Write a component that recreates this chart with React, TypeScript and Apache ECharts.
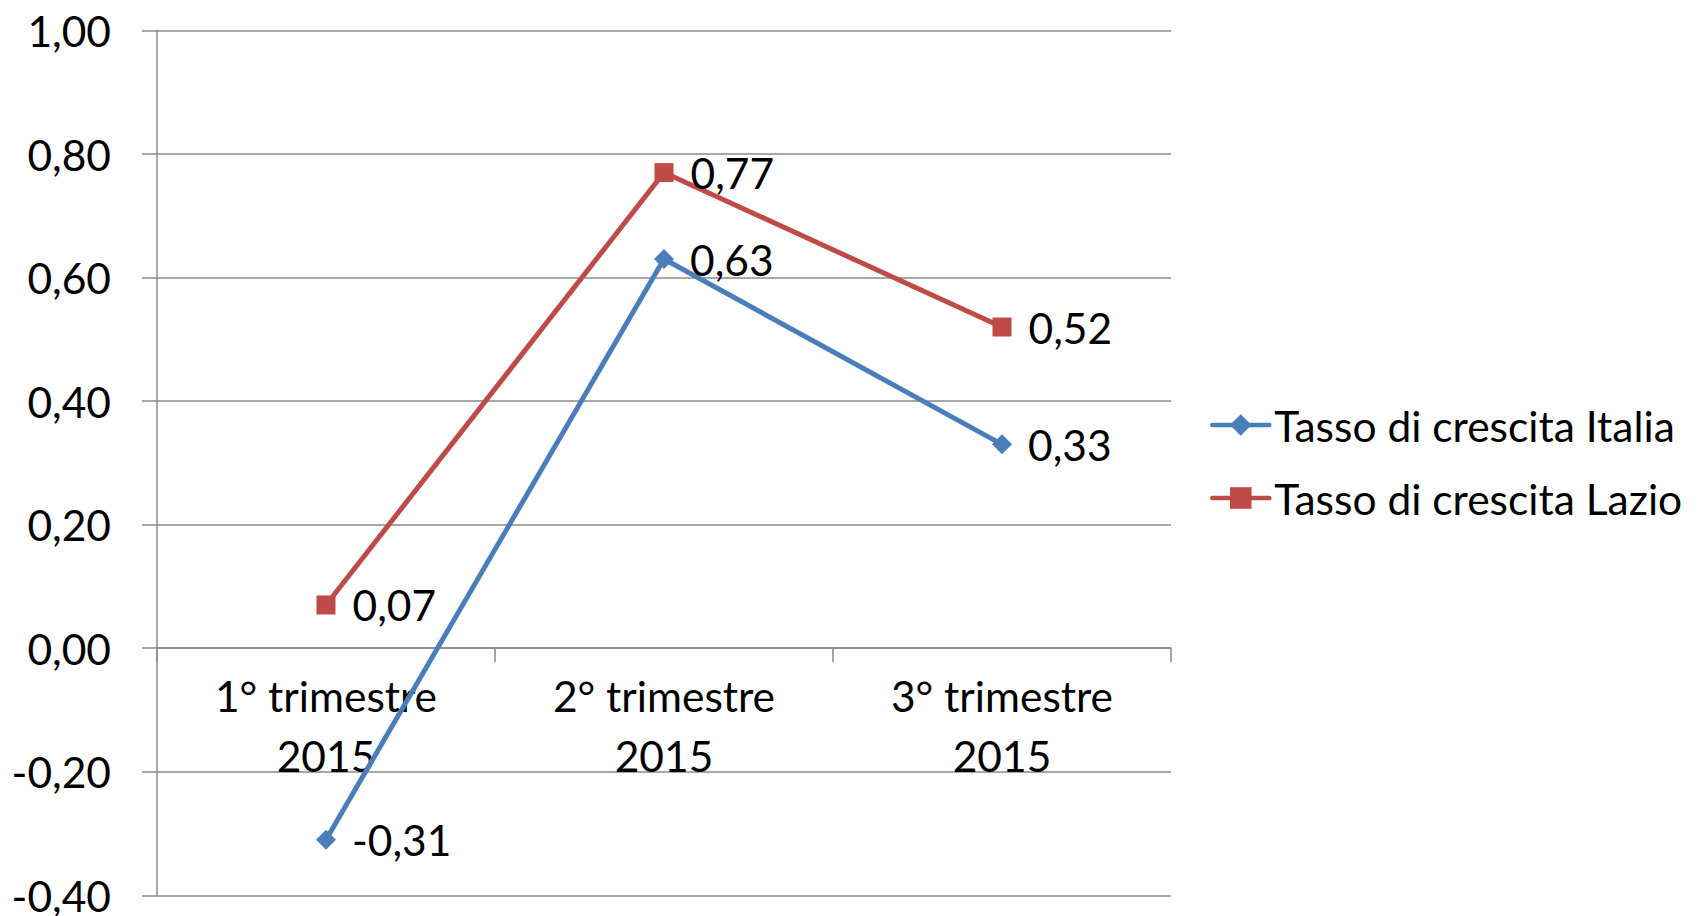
import React, { useEffect, useRef } from "react";
import * as echarts from "echarts";

const categories = ["1° trimestre\n2015", "2° trimestre\n2015", "3° trimestre\n2015"];
const italia = [-0.31, 0.63, 0.33];
const lazio = [0.07, 0.77, 0.52];
const seriesNames = ["Tasso di crescita Italia", "Tasso di crescita Lazio"];
const yMin = -0.4;
const yMax = 1.0;
const yStep = 0.2;

const FONT = "Lato";
const FS = 42.5;
const fmt = (v: number) => v.toFixed(2).replace(".", ",");

const W = 1700;
const H = 916;
const GRID_TOP = 30.5;
const GRID_BOTTOM = 20.7;

export default function App() {
  const ref = useRef<HTMLDivElement>(null);
  useEffect(() => {
    const chart = echarts.init(ref.current!, null, { renderer: "svg" });
    const grid = "#8a8a8a";
    const gridH = H - GRID_TOP - GRID_BOTTOM;
    const zeroOffset = -((0 - yMin) / (yMax - yMin)) * gridH;
    chart.setOption({
      animation: false,
      backgroundColor: "#ffffff",
      textStyle: { fontFamily: FONT },
      grid: {
        left: 157,
        right: 529,
        top: GRID_TOP,
        bottom: GRID_BOTTOM,
        containLabel: false,
        outerBoundsMode: "none",
      },
      legend: {
        orient: "vertical",
        left: 1205,
        top: 395,
        padding: 5,
        itemWidth: 57,
        itemHeight: 27,
        itemGap: 23,
        lineStyle: { width: 4.5, cap: "round" },
        textStyle: { fontFamily: FONT, fontSize: FS, color: "#000", lineHeight: 50 },
        data: seriesNames,
      },
      xAxis: {
        type: "category",
        data: categories,
        boundaryGap: true,
        offset: zeroOffset,
        axisLine: { onZero: false, lineStyle: { color: grid, width: 1.5 } },
        axisTick: { show: true, length: 14, lineStyle: { color: grid, width: 1.5 } },
        axisLabel: {
          fontFamily: FONT,
          fontSize: FS,
          color: "#000",
          lineHeight: 60,
          margin: 17,
          interval: 0,
        },
      },
      yAxis: {
        type: "value",
        min: yMin,
        max: yMax,
        interval: yStep,
        axisLine: { show: true, lineStyle: { color: grid, width: 1.5 } },
        axisTick: { show: true, length: 15, lineStyle: { color: grid, width: 1.5 } },
        splitLine: { show: true, lineStyle: { color: grid, width: 1.5 } },
        axisLabel: {
          fontFamily: FONT,
          fontSize: FS,
          color: "#000",
          margin: 46,
          formatter: (v: number) => fmt(v),
        },
      },
      series: [
        {
          name: seriesNames[0],
          type: "line",
          data: italia,
          symbol: "diamond",
          symbolSize: 20,
          itemStyle: { color: "#4A7EBB" },
          lineStyle: { color: "#4A7EBB", width: 5 },
          label: {
            show: true,
            position: "right",
            distance: 16,
            fontFamily: FONT,
            fontSize: FS,
            color: "#000",
            formatter: (p: any) => fmt(p.value),
          },
          z: 2,
        },
        {
          name: seriesNames[1],
          type: "line",
          data: lazio,
          symbol: "rect",
          symbolSize: 19,
          itemStyle: { color: "#BE4B48" },
          lineStyle: { color: "#BE4B48", width: 5 },
          label: {
            show: true,
            position: "right",
            distance: 17,
            fontFamily: FONT,
            fontSize: FS,
            color: "#000",
            formatter: (p: any) => fmt(p.value),
          },
          z: 3,
        },
      ],
    });
    return () => chart.dispose();
  }, []);
  return (
    <div
      ref={ref}
      style={{ position: "fixed", left: 0, top: 0, width: W, height: H }}
    />
  );
}
